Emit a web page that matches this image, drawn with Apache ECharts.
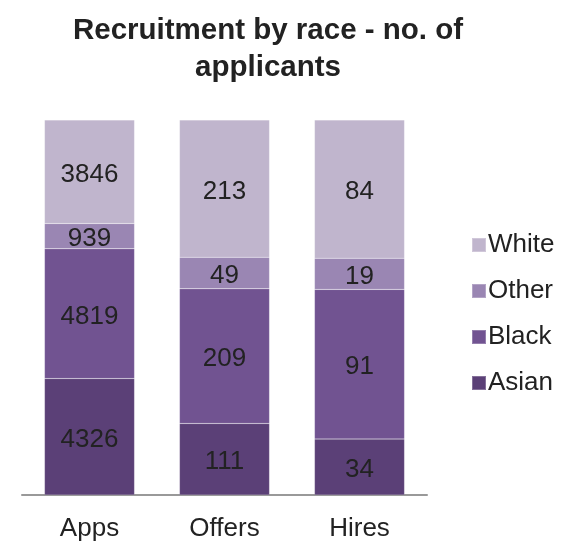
<!DOCTYPE html>
<html>
<head>
<meta charset="utf-8">
<script src="https://cdn.jsdelivr.net/npm/echarts@6/dist/echarts.min.js"></script>
<style>
html,body{margin:0;padding:0;background:#fff;}
#chart{width:567px;height:542px;}
</style>
</head>
<body>
<div id="chart"></div>
<script>
// Recruitment stages and head counts by race
const categories = ['Apps', 'Offers', 'Hires'];
const asian = [4326, 111, 34];
const black = [4819, 209, 91];
const other = [939, 49, 19];
const white = [3846, 213, 84];

const seriesNames = ['Asian', 'Black', 'Other', 'White'];
const seriesValues = [asian, black, other, white];
const seriesColors = ['#5b4077', '#715391', '#9a86b3', '#c0b5cd'];

// Each column is shown as a share of its stage total
const totals = categories.map((_, i) => seriesValues.reduce((s, arr) => s + arr[i], 0));

const FONT = 'Liberation Sans, Arial, sans-serif';

const series = seriesNames.map((name, k) => ({
  name: name,
  type: 'bar',
  stack: 'total',
  barCategoryGap: '33.3%',
  itemStyle: { color: seriesColors[k], borderColor: 'rgba(255,255,255,0.25)', borderWidth: 0.5 },
  label: {
    show: true,
    position: 'inside',
    offset: [0, 3],
    color: '#222',
    fontFamily: FONT,
    fontSize: 26,
    formatter: p => String(seriesValues[k][p.dataIndex])
  },
  data: seriesValues[k].map((v, i) => v / totals[i])
}));

const chart = echarts.init(document.getElementById('chart'), null, { renderer: 'canvas' });
chart.setOption({
  animation: false,
  backgroundColor: '#fff',
  title: {
    text: 'Recruitment by race - no. of\napplicants',
    left: 263,
    top: 7,
    textAlign: 'center',
    textStyle: { fontFamily: FONT, fontSize: 29.5, fontWeight: 'bold', color: '#222', lineHeight: 37 }
  },
  legend: {
    data: ['White', 'Other', 'Black', 'Asian'],
    orient: 'vertical',
    left: 466,
    top: 227,
    itemWidth: 14,
    itemHeight: 14,
    itemGap: 20,
    icon: 'rect',
    textStyle: { fontFamily: FONT, fontSize: 26, lineHeight: 26, color: '#222', padding: [0, 0, 0, -3] }
  },
  grid: { left: 22, top: 120, width: 405, height: 375, containLabel: false },
  xAxis: {
    type: 'category',
    data: categories,
    axisLine: { lineStyle: { color: '#999', width: 2 } },
    axisTick: { show: false },
    axisLabel: { fontFamily: FONT, fontSize: 26, color: '#222', margin: 21 }
  },
  yAxis: {
    type: 'value',
    min: 0,
    max: 1,
    show: false
  },
  series: series
});
</script>
</body>
</html>
